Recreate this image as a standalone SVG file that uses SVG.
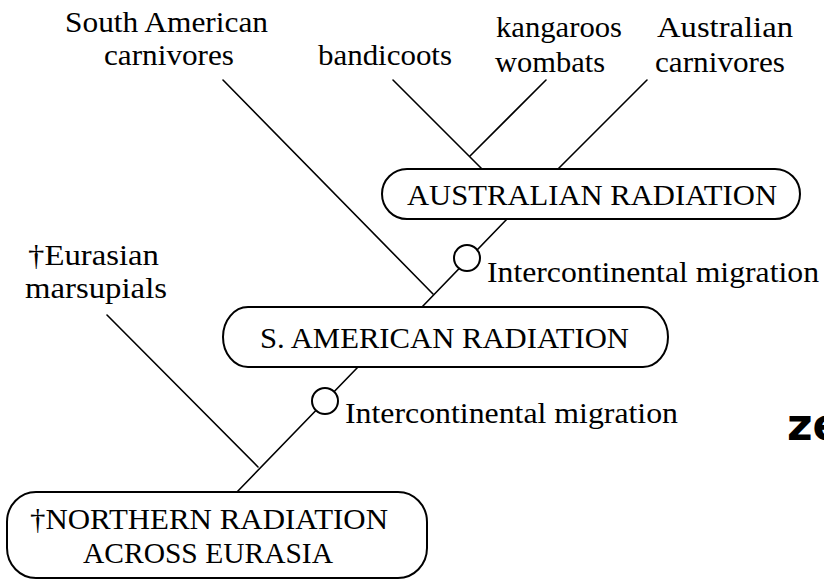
<svg xmlns="http://www.w3.org/2000/svg" width="824" height="583" viewBox="0 0 824 583">
  <style>
    .bg { fill: #ffffff; }
    .box { fill: #ffffff; stroke: #000000; stroke-width: 2; }
    .ln { stroke: #000000; stroke-width: 1.6; fill: none; stroke-linecap: round; }
    .mig { fill: #ffffff; stroke: #000000; stroke-width: 2; }
    .t { font-family: "Liberation Serif", "Times New Roman", serif; font-size: 30px; fill: #000000; }
    .ze { font-family: "DejaVu Sans", "Liberation Sans", sans-serif; font-size: 44px; font-weight: bold; fill: #000000; }
  </style>
  <rect class="bg" x="0" y="0" width="824" height="583"/>

  <g id="connectors">
    <line class="ln" x1="223" y1="80" x2="433" y2="294"/>
    <line class="ln" x1="393" y1="80" x2="482" y2="169"/>
    <line class="ln" x1="546" y1="80" x2="470" y2="156"/>
    <line class="ln" x1="647" y1="80" x2="558" y2="169"/>
    <line class="ln" x1="422" y1="307" x2="507" y2="219"/>
    <line class="ln" x1="107" y1="315" x2="258" y2="467"/>
    <line class="ln" x1="237" y1="492" x2="358" y2="367"/>
  </g>

  <g id="label-south-american-carnivores">
    <text class="t" x="65" y="32" textLength="203" lengthAdjust="spacingAndGlyphs">South American</text>
    <text class="t" x="104" y="65" textLength="130" lengthAdjust="spacingAndGlyphs">carnivores</text>
  </g>
  <g id="label-bandicoots">
    <text class="t" x="318" y="65" textLength="134" lengthAdjust="spacingAndGlyphs">bandicoots</text>
  </g>
  <g id="label-kangaroos-wombats">
    <text class="t" x="496" y="37" textLength="126" lengthAdjust="spacingAndGlyphs">kangaroos</text>
    <text class="t" x="495" y="72" textLength="110" lengthAdjust="spacingAndGlyphs">wombats</text>
  </g>
  <g id="label-australian-carnivores">
    <text class="t" x="657" y="37" textLength="136" lengthAdjust="spacingAndGlyphs">Australian</text>
    <text class="t" x="655" y="72" textLength="130" lengthAdjust="spacingAndGlyphs">carnivores</text>
  </g>

  <g id="node-australian-radiation">
    <rect class="box" x="382" y="169" width="418" height="50" rx="25" ry="25"/>
    <text class="t" x="407" y="205" textLength="370" lengthAdjust="spacingAndGlyphs">AUSTRALIAN RADIATION</text>
  </g>

  <g id="migration-upper">
    <circle class="mig" cx="467" cy="258" r="13"/>
    <text class="t" x="487" y="282" textLength="332" lengthAdjust="spacingAndGlyphs">Intercontinental migration</text>
  </g>

  <g id="label-eurasian-marsupials">
    <text class="t" x="28" y="265" textLength="131" lengthAdjust="spacingAndGlyphs">†Eurasian</text>
    <text class="t" x="25" y="298" textLength="142" lengthAdjust="spacingAndGlyphs">marsupials</text>
  </g>

  <g id="node-s-american-radiation">
    <rect class="box" x="223" y="307" width="445" height="60" rx="25" ry="30"/>
    <text class="t" x="260" y="348" textLength="369" lengthAdjust="spacingAndGlyphs">S. AMERICAN RADIATION</text>
  </g>

  <g id="migration-lower">
    <circle class="mig" cx="325" cy="401" r="13"/>
    <text class="t" x="345" y="423" textLength="333" lengthAdjust="spacingAndGlyphs">Intercontinental migration</text>
  </g>

  <g id="node-northern-radiation">
    <rect class="box" x="7" y="492" width="420" height="86" rx="29" ry="30"/>
    <text class="t" x="30" y="529" textLength="358" lengthAdjust="spacingAndGlyphs">†NORTHERN RADIATION</text>
    <text class="t" x="83" y="563" textLength="250" lengthAdjust="spacingAndGlyphs">ACROSS EURASIA</text>
  </g>

  <g id="label-ze">
    <text class="ze" x="787" y="440">ze</text>
  </g>
</svg>
